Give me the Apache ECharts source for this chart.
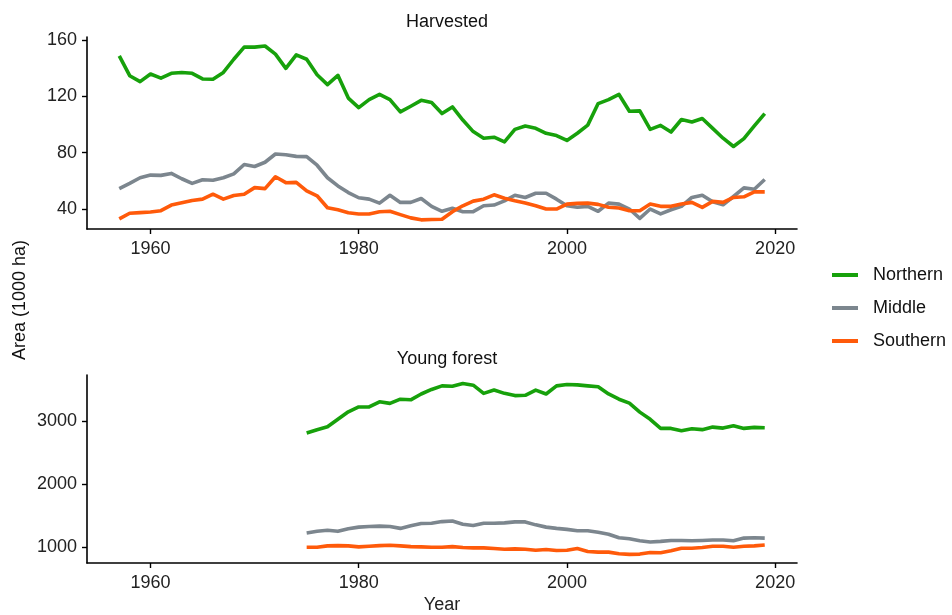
<!DOCTYPE html>
<html>
<head>
<meta charset="utf-8">
<script src="https://cdn.jsdelivr.net/npm/echarts@6/dist/echarts.min.js"></script>
<style>
	html, body { margin: 0; padding: 0; background: #fff; }
	#chart { width: 952px; height: 615px; }
</style>
</head>
<body>
<div id="chart"></div>
<script>
// Harvested area (1000 ha), 1957-2019
var harvestYears = [1957, 1958, 1959, 1960, 1961, 1962, 1963, 1964, 1965, 1966,
	1967, 1968, 1969, 1970, 1971, 1972, 1973, 1974, 1975, 1976,
	1977, 1978, 1979, 1980, 1981, 1982, 1983, 1984, 1985, 1986,
	1987, 1988, 1989, 1990, 1991, 1992, 1993, 1994, 1995, 1996,
	1997, 1998, 1999, 2000, 2001, 2002, 2003, 2004, 2005, 2006,
	2007, 2008, 2009, 2010, 2011, 2012, 2013, 2014, 2015, 2016,
	2017, 2018, 2019];
var harvestNorthern = [148.8, 134.7, 130.5, 135.9, 133, 136.4, 137, 136.4, 132.4, 132.2,
	137, 146.4, 155, 155, 155.8, 150, 139.9, 149.5, 146.4, 135.4,
	128.4, 135, 118.8, 112, 117.7, 121.4, 117.7, 109, 113, 117.2,
	115.6, 107.8, 112.5, 103.2, 95, 90.3, 91, 87.7, 96.6, 99,
	97.3, 93.8, 92.2, 88.7, 93.8, 99.6, 114.9, 117.7, 121.4, 109.5,
	109.7, 96.6, 99.4, 94.7, 103.6, 101.8, 104.3, 97.3, 90.3, 84.4,
	90, 99, 107.8];
var harvestMiddle = [54.5, 58.2, 62.2, 64.1, 63.9, 65.3, 61.5, 58.2, 60.8, 60.4,
	62.2, 65, 71.6, 70.2, 73.2, 79.1, 78.6, 77.4, 77.2, 71.1,
	62.2, 56.4, 51.7, 48, 47, 44.2, 49.8, 44.7, 44.7, 47.5,
	41.9, 38.4, 40.5, 38.1, 38.1, 42.3, 42.8, 45.8, 49.8, 48.2,
	51.2, 51.2, 47, 42.3, 41.2, 41.9, 38.4, 44.2, 43.5, 40,
	33.4, 40, 36.5, 39.5, 41.9, 48.2, 49.8, 45.1, 43, 48.9,
	55, 54, 61];
var harvestSouthern = [33, 37, 37.4, 37.9, 38.8, 42.8, 44.4, 46.1, 47, 50.5,
	47, 49.6, 50.5, 55.2, 54.5, 62.9, 58.7, 58.9, 52.9, 49.4,
	40.9, 39.5, 37.4, 36.5, 36.5, 38.1, 38.4, 36, 33.7, 32.3,
	32.5, 32.7, 38.1, 42.3, 45.6, 47, 50.1, 47.7, 45.8, 44.2,
	42.3, 40, 40, 43.5, 44, 44.2, 43.3, 41.2, 40.7, 38.8,
	38.8, 43.5, 41.9, 41.9, 43.5, 44.7, 41.2, 45.4, 44.7, 48.2,
	48.7, 52.2, 52.2];

// Young forest area (1000 ha), 1975-2019
var youngYears = [1975, 1976, 1977, 1978, 1979, 1980, 1981, 1982, 1983, 1984,
	1985, 1986, 1987, 1988, 1989, 1990, 1991, 1992, 1993, 1994,
	1995, 1996, 1997, 1998, 1999, 2000, 2001, 2002, 2003, 2004,
	2005, 2006, 2007, 2008, 2009, 2010, 2011, 2012, 2013, 2014,
	2015, 2016, 2017, 2018, 2019];
var youngNorthern = [2814, 2866, 2912, 3031, 3150, 3227, 3227, 3310, 3284, 3351,
	3341, 3434, 3506, 3563, 3558, 3600, 3574, 3444, 3496, 3444,
	3408, 3413, 3496, 3434, 3563, 3584, 3579, 3563, 3548, 3434,
	3351, 3289, 3145, 3031, 2886, 2886, 2850, 2881, 2866, 2907,
	2891, 2928, 2886, 2902, 2897];
var youngMiddle = [1222, 1248, 1264, 1248, 1289, 1315, 1326, 1331, 1326, 1295,
	1336, 1372, 1377, 1403, 1413, 1362, 1341, 1377, 1377, 1382,
	1398, 1398, 1351, 1315, 1295, 1279, 1258, 1258, 1233, 1202,
	1145, 1129, 1098, 1078, 1088, 1103, 1103, 1098, 1103, 1109,
	1109, 1098, 1140, 1145, 1140];
var youngSouthern = [995, 995, 1016, 1021, 1016, 1000, 1010, 1021, 1026, 1016,
	1005, 1000, 995, 995, 1005, 990, 984, 984, 974, 964,
	969, 964, 948, 959, 943, 948, 974, 928, 917, 917,
	891, 881, 886, 912, 907, 938, 979, 979, 990, 1010,
	1010, 995, 1010, 1016, 1031];

var regionNames = ['Northern', 'Middle', 'Southern'];
var regionColors = ['#17a10b', '#7c868e', '#ff5a0a'];
var xTicks = [1960, 1980, 2000, 2020];
var harvestTicks = [40, 80, 120, 160];
var youngTicks = [1000, 2000, 3000];

var FONT = '"Liberation Sans", Arial, sans-serif';
var FS = 18;

function pairs(xs, ys) {
	var out = [];
	for (var i = 0; i < xs.length; i++) {
		out.push([xs[i], ys[i]]);
	}
	return out;
}

// plain numbers, no thousands separator
function plainLabel(v) {
	return String(v);
}

function makeXAxis(gridIndex, showName) {
	return {
		type : 'value',
		gridIndex : gridIndex,
		min : 1953.9,
		max : 2022.1,
		splitLine : { show : false },
		axisLine : { show : true, lineStyle : { color : '#000', width : 1.6 } },
		axisTick : { show : true, length : 5, customValues : xTicks,
			lineStyle : { color : '#000', width : 1.4 } },
		axisLabel : { customValues : xTicks, color : '#222', fontSize : FS,
			fontFamily : FONT, margin : 11, formatter : plainLabel },
		name : showName ? 'Year' : '',
		nameLocation : 'middle',
		nameGap : 33,
		nameTextStyle : { color : '#222', fontSize : FS, fontFamily : FONT }
	};
}

function makeYAxis(gridIndex, min, max, ticks) {
	return {
		type : 'value',
		gridIndex : gridIndex,
		min : min,
		max : max,
		splitLine : { show : false },
		axisLine : { show : true, lineStyle : { color : '#000', width : 1.6 } },
		axisTick : { show : true, length : 5, customValues : ticks,
			lineStyle : { color : '#000', width : 1.4 } },
		axisLabel : { customValues : ticks, color : '#222', fontSize : FS,
			fontFamily : FONT, margin : 10, formatter : plainLabel }
	};
}

function makeSeries(name, idx, gridIndex, xs, ys) {
	return {
		name : name,
		type : 'line',
		xAxisIndex : gridIndex,
		yAxisIndex : gridIndex,
		showSymbol : false,
		symbol : 'none',
		silent : true,
		lineStyle : { width : 3.6, color : regionColors[idx], join : 'round' },
		itemStyle : { color : regionColors[idx] },
		data : pairs(xs, ys)
	};
}

var chart = echarts.init(document.getElementById('chart'));

chart.setOption({
	backgroundColor : '#fff',
	animation : false,
	title : [ {
		text : 'Harvested',
		left : 442,
		top : 8,
		textAlign : 'center',
		textStyle : { fontSize : FS, fontWeight : 'normal', color : '#111', fontFamily : FONT }
	}, {
		text : 'Young forest',
		left : 442,
		top : 345,
		textAlign : 'center',
		textStyle : { fontSize : FS, fontWeight : 'normal', color : '#111', fontFamily : FONT }
	} ],
	legend : {
		orient : 'vertical',
		left : 827,
		top : 261,
		itemWidth : 26,
		itemHeight : 4,
		itemGap : 15,
		icon : 'rect',
		textStyle : { fontSize : FS, color : '#111', fontFamily : FONT, padding : [0, 0, 0, 10] },
		data : regionNames
	},
	graphic : [ {
		type : 'text',
		left : 11,
		top : 240,
		rotation : Math.PI / 2,
		style : { text : 'Area (1000 ha)', fill : '#111', font : FS + 'px ' + FONT }
	} ],
	grid : [
		{ left : 87, right : 155, top : 37, height : 192 },
		{ left : 87, right : 155, top : 375, height : 192 }
	],
	xAxis : [ makeXAxis(0, false), makeXAxis(1, true) ],
	yAxis : [ makeYAxis(0, 25.8, 162.2, harvestTicks),
		makeYAxis(1, 744, 3736, youngTicks) ],
	series : [
		makeSeries(regionNames[0], 0, 0, harvestYears, harvestNorthern),
		makeSeries(regionNames[1], 1, 0, harvestYears, harvestMiddle),
		makeSeries(regionNames[2], 2, 0, harvestYears, harvestSouthern),
		makeSeries(regionNames[0], 0, 1, youngYears, youngNorthern),
		makeSeries(regionNames[1], 1, 1, youngYears, youngMiddle),
		makeSeries(regionNames[2], 2, 1, youngYears, youngSouthern)
	]
});
</script>
</body>
</html>
